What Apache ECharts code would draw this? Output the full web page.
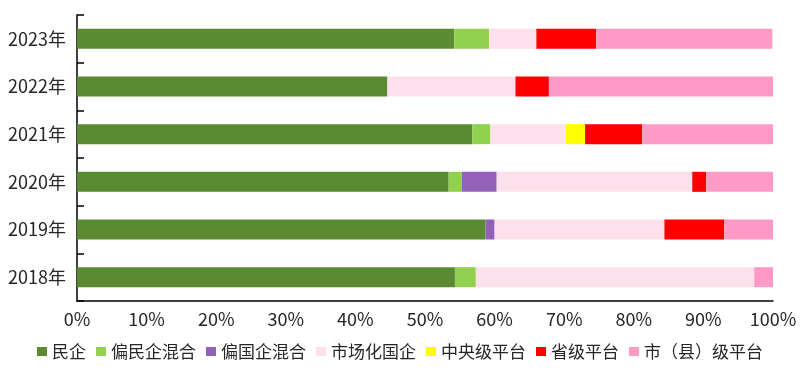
<!DOCTYPE html>
<html>
<head>
<meta charset="utf-8">
<script src="https://cdn.jsdelivr.net/npm/echarts@6/dist/echarts.min.js"></script>
<style>html,body{margin:0;padding:0;background:#fff;}#c{width:800px;height:374px;}</style>
</head>
<body>
<div id="c"></div>
<script>
const categories = ['2018年', '2019年', '2020年', '2021年', '2022年', '2023年'];
const xTicks = [0, 10, 20, 30, 40, 50, 60, 70, 80, 90, 100];
const seriesNames = ['民企', '偏民企混合', '偏国企混合', '市场化国企', '中央级平台', '省级平台', '市（县）级平台'];
const minqi        = [54.3, 58.7, 53.4, 56.8, 44.6, 54.2];
const pianMinHunhe = [3.0, 0, 1.9, 2.6, 0, 5.0];
const pianGuoHunhe = [0, 1.3, 5.0, 0, 0, 0];
const shichanghua  = [40.0, 24.4, 28.1, 10.8, 18.4, 6.8];
const zhongyang    = [0, 0, 0, 2.8, 0, 0];
const shengji      = [0, 8.6, 2.0, 8.2, 4.8, 8.6];
const shixian      = [2.7, 7.0, 9.6, 18.8, 32.2, 25.3];
const values = [minqi, pianMinHunhe, pianGuoHunhe, shichanghua, zhongyang, shengji, shixian];
const colors = ['#5a8a32', '#92d050', '#9461b8', '#fde0eb', '#ffff00', '#ff0000', '#ff99c6'];

const chart = echarts.init(document.getElementById('c'), null, {renderer: 'canvas'});
const font = '"Noto Sans CJK SC", "Noto Sans", sans-serif';
chart.setOption({
  animation: false,
  color: colors,
  grid: {left: 77, right: 27, top: 15, bottom: 73, containLabel: false},
  legend: {
    data: seriesNames,
    top: 338,
    left: 'center',
    itemWidth: 10,
    itemHeight: 9,
    itemGap: 10,
    icon: 'rect',
    textStyle: {fontSize: 17, color: '#262626', fontFamily: font}
  },
  xAxis: {
    type: 'value',
    min: 0,
    max: 100,
    interval: 10,
    axisLine: {show: true, lineStyle: {color: '#000', width: 1.5}},
    axisTick: {show: false},
    splitLine: {show: false},
    axisLabel: {
      formatter: v => xTicks.includes(v) ? v + '%' : '',
      fontSize: 18, color: '#262626', fontFamily: font, margin: 9
    }
  },
  yAxis: {
    type: 'category',
    data: categories,
    axisLine: {show: true, lineStyle: {color: '#000', width: 1.5}},
    axisTick: {show: true, inside: true, length: 7, lineStyle: {color: '#000', width: 1.5}},
    axisLabel: {fontSize: 18, color: '#262626', fontFamily: font, margin: 11}
  },
  series: seriesNames.map((name, i) => ({
    name: name,
    type: 'bar',
    stack: 'total',
    barWidth: 20,
    data: values[i],
    itemStyle: {color: colors[i]}
  }))
});
</script>
</body>
</html>
